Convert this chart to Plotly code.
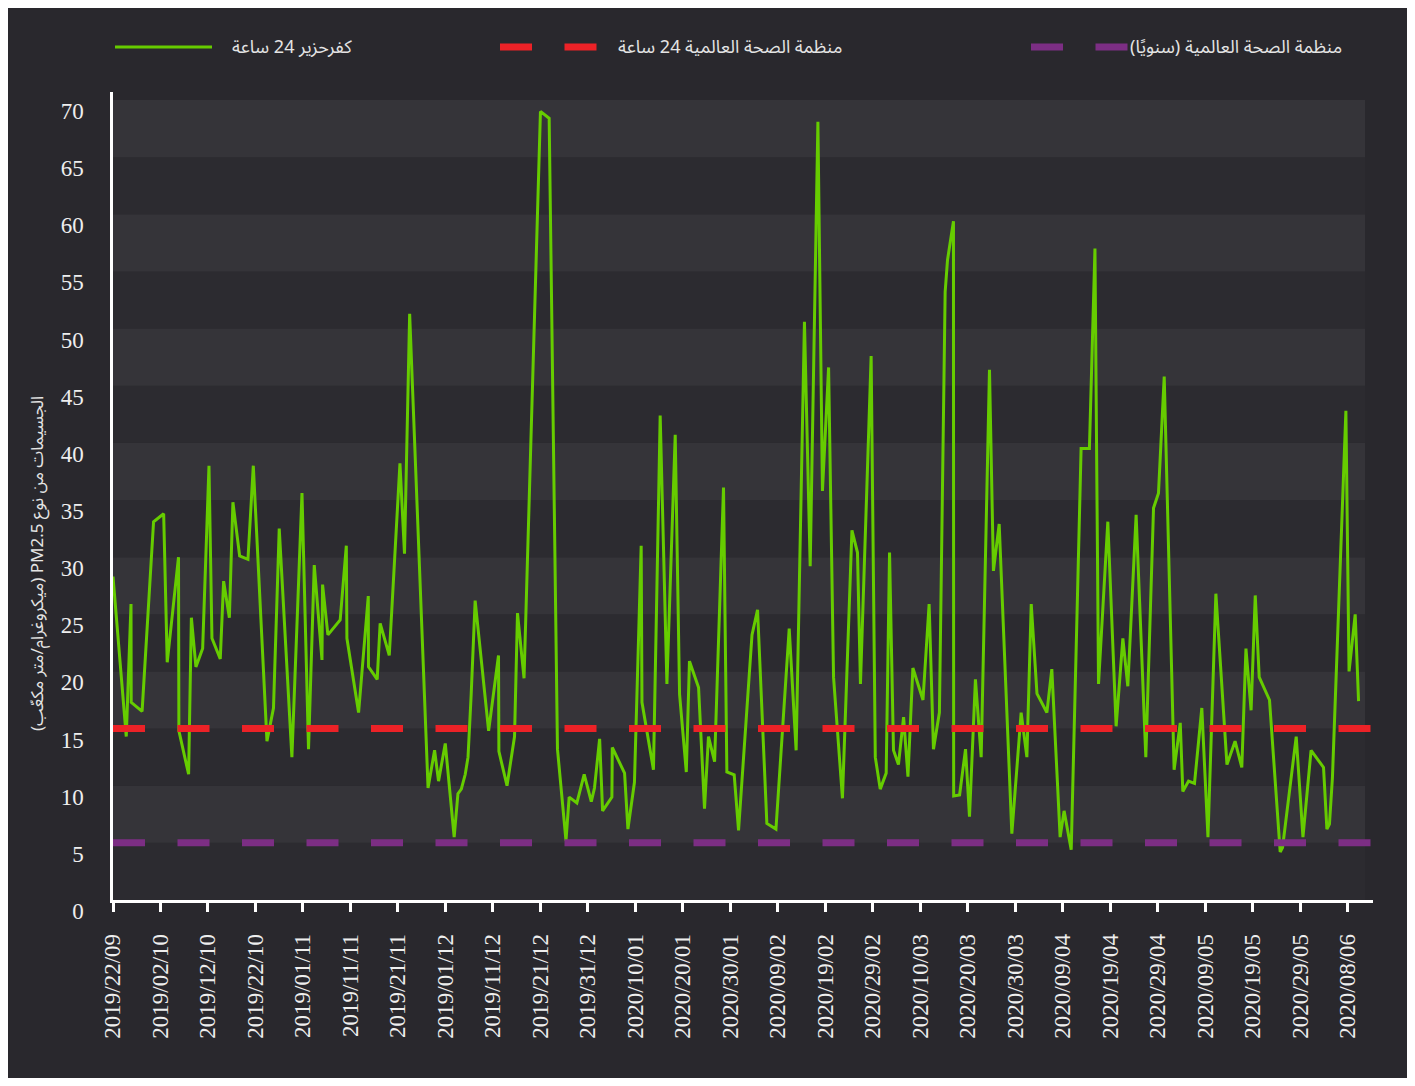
import plotly.graph_objects as go

# ---------------- data ----------------
timestamps = [
    "2019-09-22 00:00", "2019-09-24 19:00", "2019-09-25 19:00", "2019-09-25 20:00",
    "2019-09-28 03:00", "2019-09-30 13:00", "2019-10-02 16:00", "2019-10-03 10:00",
    "2019-10-05 19:00", "2019-10-05 21:00", "2019-10-07 22:00", "2019-10-08 12:00",
    "2019-10-09 11:00", "2019-10-10 21:00", "2019-10-12 05:00", "2019-10-12 20:00",
    "2019-10-14 14:00", "2019-10-15 07:00", "2019-10-16 12:00", "2019-10-17 06:00",
    "2019-10-18 16:00", "2019-10-20 10:00", "2019-10-21 13:00", "2019-10-24 10:00",
    "2019-10-25 19:00", "2019-10-27 00:00", "2019-10-29 16:00", "2019-10-31 19:00",
    "2019-11-02 04:00", "2019-11-03 09:00", "2019-11-05 00:00", "2019-11-05 03:00",
    "2019-11-06 06:00", "2019-11-08 20:00", "2019-11-10 03:00", "2019-11-10 06:00",
    "2019-11-12 17:00", "2019-11-14 18:00", "2019-11-14 19:00", "2019-11-16 15:00",
    "2019-11-17 06:00", "2019-11-19 04:00", "2019-11-21 10:00", "2019-11-22 09:00",
    "2019-11-23 11:00", "2019-11-27 08:00", "2019-11-28 17:00", "2019-11-29 13:00",
    "2019-11-30 23:00", "2019-12-02 20:00", "2019-12-03 15:00", "2019-12-04 08:00",
    "2019-12-05 04:00", "2019-12-05 18:00", "2019-12-06 10:00", "2019-12-07 06:00",
    "2019-12-10 02:00", "2019-12-12 04:00", "2019-12-12 06:00", "2019-12-13 23:00",
    "2019-12-15 13:00", "2019-12-16 04:00", "2019-12-17 13:00", "2019-12-21 00:00",
    "2019-12-22 20:00", "2019-12-24 14:00", "2019-12-26 09:00", "2019-12-27 01:00",
    "2019-12-28 16:00", "2019-12-30 05:00", "2019-12-31 17:00", "2020-01-01 09:00",
    "2020-01-02 11:00", "2020-01-03 02:00", "2020-01-05 01:00", "2020-01-05 03:00",
    "2020-01-07 17:00", "2020-01-08 10:00", "2020-01-09 19:00", "2020-01-11 05:00",
    "2020-01-11 09:00", "2020-01-13 19:00", "2020-01-15 05:00", "2020-01-16 15:00",
    "2020-01-18 09:00", "2020-01-19 07:00", "2020-01-20 17:00", "2020-01-21 09:00",
    "2020-01-23 07:00", "2020-01-24 13:00", "2020-01-25 09:00", "2020-01-26 16:00",
    "2020-01-28 13:00", "2020-01-29 06:00", "2020-01-30 19:00", "2020-01-31 17:00",
    "2020-02-03 13:00", "2020-02-04 17:00", "2020-02-06 16:00", "2020-02-08 14:00",
    "2020-02-11 09:00", "2020-02-12 20:00", "2020-02-14 14:00", "2020-02-15 19:00",
    "2020-02-17 10:00", "2020-02-18 09:00", "2020-02-19 16:00", "2020-02-20 17:00",
    "2020-02-22 14:00", "2020-02-24 14:00", "2020-02-25 18:00", "2020-02-26 09:00",
    "2020-02-28 15:00", "2020-02-29 12:00", "2020-03-01 13:00", "2020-03-02 19:00",
    "2020-03-03 12:00", "2020-03-04 08:00", "2020-03-05 09:00", "2020-03-06 11:00",
    "2020-03-07 09:00", "2020-03-08 10:00", "2020-03-10 13:00", "2020-03-11 20:00",
    "2020-03-12 18:00", "2020-03-14 00:00", "2020-03-15 05:00", "2020-03-15 17:00",
    "2020-03-16 23:00", "2020-03-17 00:00", "2020-03-18 06:00", "2020-03-19 12:00",
    "2020-03-20 08:00", "2020-03-21 14:00", "2020-03-22 19:00", "2020-03-24 13:00",
    "2020-03-25 09:00", "2020-03-26 14:00", "2020-03-29 06:00", "2020-03-31 05:00",
    "2020-04-01 10:00", "2020-04-02 08:00", "2020-04-03 13:00", "2020-04-05 15:00",
    "2020-04-06 16:00", "2020-04-08 10:00", "2020-04-09 06:00", "2020-04-10 18:00",
    "2020-04-12 20:00", "2020-04-14 14:00", "2020-04-15 18:00", "2020-04-16 12:00",
    "2020-04-18 11:00", "2020-04-20 05:00", "2020-04-21 15:00", "2020-04-22 16:00",
    "2020-04-24 10:00", "2020-04-26 11:00", "2020-04-28 02:00", "2020-04-29 03:00",
    "2020-04-30 08:00", "2020-05-02 10:00", "2020-05-03 17:00", "2020-05-04 06:00",
    "2020-05-05 11:00", "2020-05-06 17:00", "2020-05-08 06:00", "2020-05-09 13:00",
    "2020-05-11 05:00", "2020-05-13 13:00", "2020-05-15 06:00", "2020-05-16 16:00",
    "2020-05-17 13:00", "2020-05-18 15:00", "2020-05-19 12:00", "2020-05-20 08:00",
    "2020-05-22 12:00", "2020-05-24 18:00", "2020-05-25 06:00", "2020-05-28 03:00",
    "2020-05-29 13:00", "2020-05-31 06:00", "2020-06-02 21:00", "2020-06-03 14:00",
    "2020-06-04 03:00", "2020-06-04 18:00", "2020-06-07 14:00", "2020-06-08 06:00",
    "2020-06-09 13:00", "2020-06-10 06:00",
]

pm25_kfarhazir = [
    28.3, 14.3, 25.9, 17.3,
    16.5, 33.1, 33.8, 20.8,
    30.0, 14.8, 11.0, 24.7,
    20.4, 22.0, 38.0, 22.9,
    21.1, 27.9, 24.7, 34.8,
    30.1, 29.8, 38.0, 13.9,
    16.8, 32.5, 12.5, 35.6,
    13.2, 29.3, 21.0, 27.6,
    23.2, 24.5, 31.0, 22.9,
    16.4, 26.6, 20.4, 19.3,
    24.2, 21.4, 38.2, 30.3,
    51.3, 9.8, 13.1, 10.4,
    13.7, 5.5, 9.3, 9.7,
    11.0, 12.5, 18.0, 26.2,
    14.8, 21.4, 13.0, 10.0,
    14.3, 25.1, 19.4, 69.0,
    68.4, 13.2, 5.2, 9.0,
    8.5, 11.0, 8.6, 9.8,
    14.1, 7.8, 9.0, 13.35,
    11.1, 6.2, 10.3, 31.0,
    17.3, 11.4, 42.4, 18.9,
    40.7, 18.0, 11.2, 20.9,
    18.6, 8.0, 14.3, 12.1,
    36.1, 11.2, 10.95, 6.1,
    23.2, 25.4, 6.7, 6.2,
    23.75, 13.1, 50.6, 29.2,
    68.1, 35.8, 46.6, 19.5,
    8.9, 32.35, 30.4, 18.9,
    47.6, 12.5, 9.7, 11.1,
    30.4, 13.1, 11.85, 16.0,
    10.8, 20.3, 17.5, 25.9,
    13.2, 16.4, 53.2, 56.0,
    59.4, 9.1, 9.2, 13.2,
    7.3, 19.3, 12.5, 46.4,
    28.8, 32.9, 5.8, 16.4,
    12.5, 25.9, 18.05, 16.4,
    20.2, 5.5, 7.8, 4.4,
    39.5, 39.5, 57.0, 18.9,
    33.1, 15.2, 22.9, 18.7,
    33.7, 12.5, 34.3, 35.6,
    45.8, 11.4, 15.5, 9.5,
    10.4, 10.2, 16.8, 5.5,
    26.8, 11.85, 13.9, 11.6,
    22.0, 16.6, 26.65, 19.5,
    17.5, 4.2, 4.6, 14.3,
    5.5, 13.1, 11.6, 6.2,
    6.65, 10.7, 42.8, 20.0,
    25.0, 17.4,
]

who_24h_limit = 15
who_annual_limit = 5

x_range = ["2019-09-22 00:00", "2020-06-13 07:00"]
y_range = [0, 70.7]
tick_start = "2019-09-22"
tick_step_days = 10
y_tick_step = 5
band_values = [0, 5, 10, 15, 20, 25, 30, 35, 40, 45, 50, 55, 60, 65, 70]

label_series = "كفرحزير 24 ساعة"
label_who_24h = "منظمة الصحة العالمية 24 ساعة"
label_who_annual = "منظمة الصحة العالمية (سنويًا)"
y_title = "الجسيمات من نوع PM2.5 (ميكروغرام/متر مكعّب)"

# ---------------- style ----------------
BG = "#29282d"
BAND_LIGHT = "#353439"
BAND_DARK = "#2c2b30"
GREEN = "#66cc00"
RED = "#ec2227"
PURPLE = "#7c2e84"
TEXT = "#e4e4e4"
ARABIC_FONT = "Noto Sans Arabic, DejaVu Sans, sans-serif"
NUM_FONT = "Liberation Serif, Times New Roman, serif"
DASH = "32px,32.5px"


def rtl(s):
    return "\u202b" + s + "\u202c"


OFF = 8  # page body margin in the browser
W, H = 1415 - 2 * OFF, 1086 - 2 * OFF
ML, MT = 113 - OFF, 92 - OFF
MR = W - (1373 - OFF)
MB = H - (900 - OFF)
PW, PH = W - ML - MR, H - MT - MB


def px_x(px):
    return (px - OFF - ML) / PW


def px_y(py):
    return (H - MB - (py - OFF)) / PH


fig = go.Figure()

fig.add_trace(go.Scatter(
    x=timestamps, y=pm25_kfarhazir, mode="lines", name=label_series,
    line=dict(color=GREEN, width=3), showlegend=False,
))
fig.add_trace(go.Scatter(
    x=x_range, y=[who_24h_limit, who_24h_limit], mode="lines", name=label_who_24h,
    line=dict(color=RED, width=7, dash=DASH), showlegend=False, hoverinfo="skip",
))
fig.add_trace(go.Scatter(
    x=x_range, y=[who_annual_limit, who_annual_limit], mode="lines", name=label_who_annual,
    line=dict(color=PURPLE, width=7, dash=DASH), showlegend=False, hoverinfo="skip",
))

shapes = []
band_right = px_x(1365)
for i in range(len(band_values) - 1):
    shapes.append(dict(
        type="rect", xref="paper", yref="y", x0=0, x1=band_right,
        y0=band_values[i], y1=band_values[i + 1], layer="below",
        fillcolor=BAND_LIGHT if i % 2 == 1 else BAND_DARK, line=dict(width=0),
    ))

# legend (symbols drawn long, as in the original)
leg_y = px_y(47)
legend_items = [
    (115, 212, 230, GREEN, 3, "solid", label_series),
    (500, 598, 616, RED, 7, DASH, label_who_24h),
    (1031, 1128, 1128, PURPLE, 7, DASH, label_who_annual),
]
annotations = []
for x0, x1, xt, col, w, dash, lab in legend_items:
    shapes.append(dict(
        type="line", xref="paper", yref="paper", x0=px_x(x0), x1=px_x(x1),
        y0=leg_y, y1=leg_y, line=dict(color=col, width=w, dash=dash),
    ))
    annotations.append(dict(
        xref="paper", yref="paper", x=px_x(xt), y=leg_y, xanchor="left", yanchor="middle",
        text=rtl(lab), showarrow=False, font=dict(family=ARABIC_FONT, size=18, color=TEXT),
    ))

annotations.append(dict(
    xref="paper", yref="paper", x=px_x(38), y=px_y(564), xanchor="center", yanchor="middle",
    text=rtl(y_title), textangle=-90, showarrow=False,
    font=dict(family=ARABIC_FONT, size=17, color=TEXT),
))

fig.update_layout(
    width=W, height=H,
    margin=dict(l=ML, r=MR, t=MT, b=MB, autoexpand=False),
    paper_bgcolor=BG, plot_bgcolor=BG,
    shapes=shapes, annotations=annotations,
    showlegend=False,
    font=dict(family=ARABIC_FONT, color=TEXT),
)

fig.update_xaxes(
    type="date", range=x_range, tickmode="linear", tick0=tick_start,
    dtick=tick_step_days * 86400000, tickformat="%Y/%d/%m", tickangle=-90,
    ticks="outside", ticklen=9, tickwidth=2.5, tickcolor="#ffffff",
    showline=True, linecolor="#ffffff", linewidth=2.5,
    showgrid=False, zeroline=False, automargin=False,
    tickfont=dict(family=NUM_FONT, size=23, color="#eeeeee"),
    ticklabelstandoff=13,
)
fig.update_yaxes(
    range=y_range, tickmode="linear", tick0=0, dtick=y_tick_step,
    ticks="", showline=True, linecolor="#ffffff", linewidth=2.5,
    showgrid=False, zeroline=False, automargin=False,
    tickfont=dict(family=NUM_FONT, size=23, color="#eeeeee"),
    ticklabelshift=11, ticklabelstandoff=22,
)

fig.write_html("out.html")
